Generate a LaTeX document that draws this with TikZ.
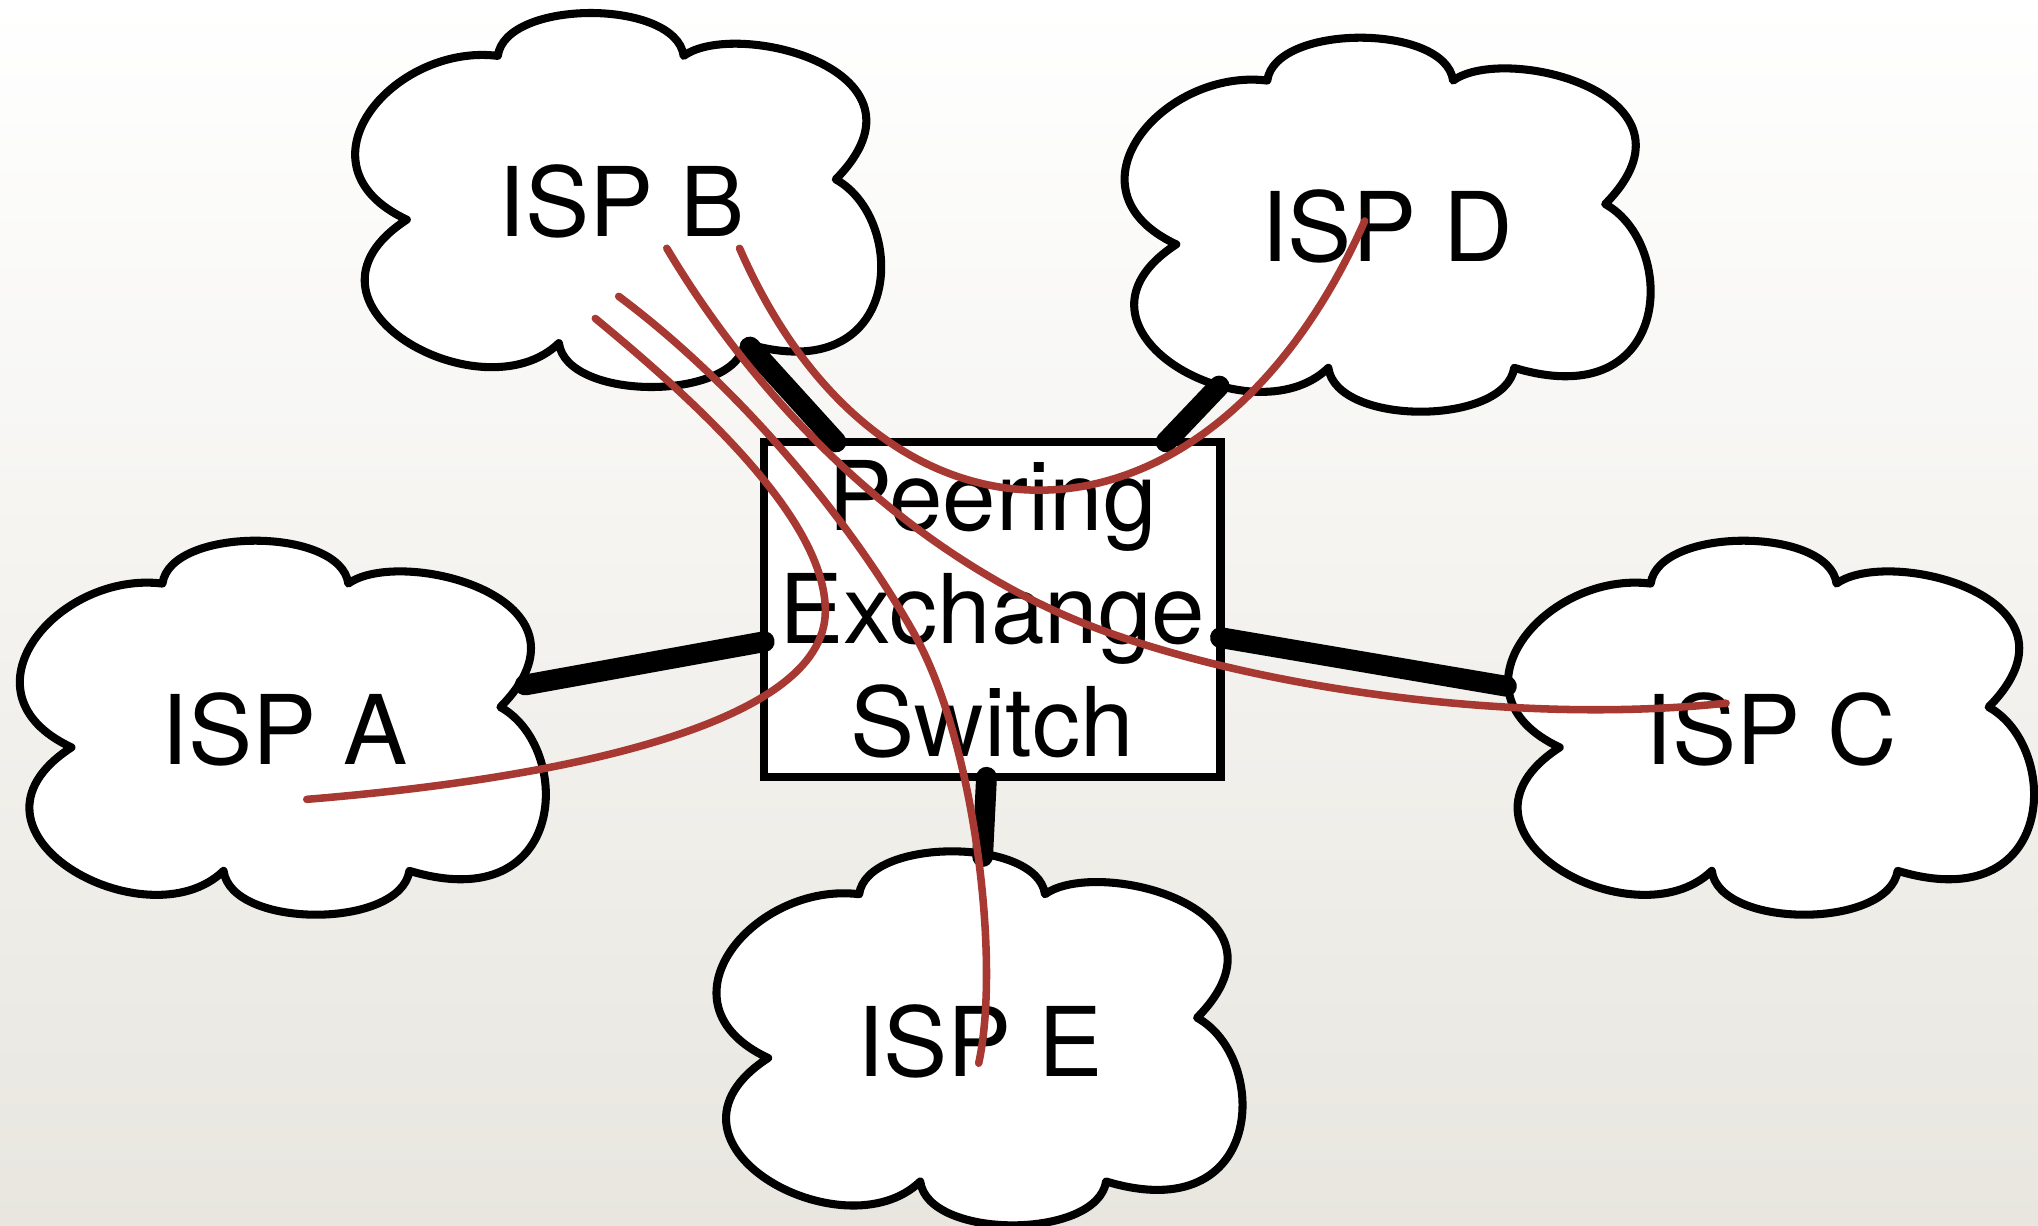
\documentclass[tikz,border=0pt]{standalone}
\usepackage{fontspec}
\setmainfont{TeX Gyre Heros}
\definecolor{bgbot}{RGB}{232,230,223}
\definecolor{redline}{RGB}{168,56,50}
\tikzset{
  cloudline/.style={draw=black, fill=white, line width=6.2pt, line join=round},
  link/.style={draw=black, line width=16pt, line cap=round},
  route/.style={draw=redline, line width=5.8pt, line cap=round},
  isplabel/.style={font=\fontsize{74}{90}\selectfont, inner sep=0pt},
}
\newcommand\ispcloud[2]{%
  \path[cloudline, shift={(#1,#2)}] (112,34)
    .. controls (118,-10) and (249,-10) .. (255,34)
    .. controls (295,5) and (455,45) .. (372,129)
    .. controls (428,160) and (425,292) .. (302,255)
    .. controls (295,300) and (165,300) .. (159,255)
    .. controls (100,312) and (-58,225) .. (42,160)
    .. controls (-48,118) and (32,24) .. (112,34) -- cycle;}
\begin{document}
\begin{tikzpicture}[x=1pt,y=-1pt]
\useasboundingbox (0,0) rectangle (1568,943);
\shade[top color=white, bottom color=bgbot] (0,0) rectangle (1568,943);
% clouds
\ispcloud{13}{415}
\ispcloud{271}{9}
\ispcloud{1158}{415}
\ispcloud{863}{28}
\ispcloud{549}{654}
% labels
\node[isplabel] (ispA) at (219,561) {ISP A};
\node[isplabel] (ispB) at (478,155) {ISP B};
\node[isplabel] (ispC) at (1363,561) {ISP C};
\node[isplabel] (ispD) at (1067,174) {ISP D};
\node[isplabel] (ispE) at (754,801) {ISP E};
% switch
\node[draw, line width=6.2pt, fill=white, minimum width=351pt, minimum height=258pt,
      inner sep=0pt, outer sep=0pt, align=center, font=\fontsize{74}{87}\selectfont]
      (sw) at (763.5,469) {Peering\\Exchange\\Switch};
% connectors
\coordinate (cA) at (404,527);
\coordinate (cB) at (577,267);
\coordinate (cC) at (1159,528);
\coordinate (cD) at (938,297);
\coordinate (cE) at (756,659);
\draw[link] (cA) -- (sw.188.1);
\draw[link] (cB) -- (sw.133);
\draw[link] (cC) -- (sw.-7.8);
\draw[link] (cD) -- (sw.44.4);
\draw[link] (cE) -- (sw.268.4);
% routes
\coordinate (rA) at (236,615);
\coordinate (rB1) at (458,245);
\coordinate (rB2) at (476,228);
\coordinate (rB3) at (513,191);
\coordinate (rB4) at (569,191);
\coordinate (rC) at (1328,541);
\coordinate (rD) at (1050,170);
\coordinate (rE) at (753,818);
\draw[route] (rB1) .. controls (538,311) and (635,400) .. (635,470)
                   .. controls (635,560) and (420,600) .. (rA);
\draw[route] (rB2) .. controls (566,295) and (653,398) .. (703,487)
                   .. controls (750,570) and (770,740) .. (rE);
\draw[route] (rB3) .. controls (590,320) and (700,420) .. (816,472)
                   .. controls (930,523) and (1150,560) .. (rC);
\draw[route] (rB4) .. controls (680,445) and (930,440) .. (rD);
\end{tikzpicture}
\end{document}
